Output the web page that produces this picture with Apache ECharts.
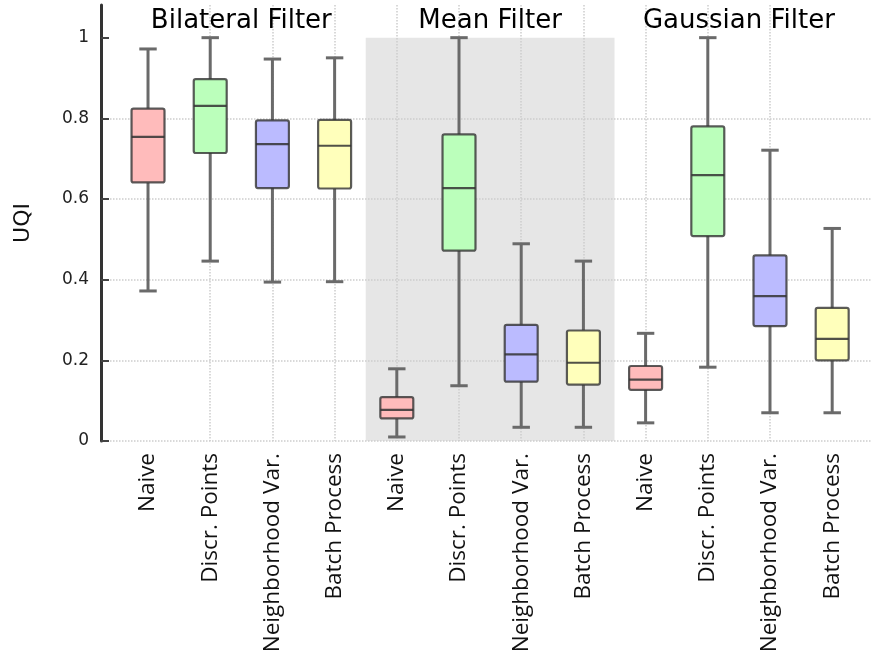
<!DOCTYPE html>
<html><head><meta charset="utf-8">
<script src="https://cdn.jsdelivr.net/npm/echarts@6/dist/echarts.min.js"></script>
<style>html,body{margin:0;padding:0;background:#fff}#c{width:874px;height:662px}</style>
</head><body><div id="c"></div>
<script>
// ---- data ----
const methods = ['Naive', 'Discr. Points', 'Neighborhood Var.', 'Batch Process'];
const groups = ['Bilateral Filter', 'Mean Filter', 'Gaussian Filter'];
const categories = [
  'Naive', 'Discr. Points', 'Neighborhood Var.', 'Batch Process',
  'Naive', 'Discr. Points', 'Neighborhood Var.', 'Batch Process',
  'Naive', 'Discr. Points', 'Neighborhood Var.', 'Batch Process'
];
const lowWhisker  = [0.372, 0.446, 0.394, 0.395, 0.010, 0.137, 0.034, 0.034, 0.045, 0.183, 0.070, 0.070];
const q1          = [0.641, 0.714, 0.627, 0.626, 0.056, 0.472, 0.147, 0.140, 0.127, 0.508, 0.285, 0.200];
const median      = [0.754, 0.831, 0.736, 0.732, 0.077, 0.627, 0.215, 0.194, 0.152, 0.659, 0.359, 0.253];
const q3          = [0.824, 0.897, 0.795, 0.796, 0.109, 0.760, 0.288, 0.274, 0.186, 0.780, 0.460, 0.330];
const highWhisker = [0.972, 1.000, 0.947, 0.950, 0.179, 1.000, 0.489, 0.446, 0.267, 1.000, 0.721, 0.527];
const yTicks = [0, 0.2, 0.4, 0.6, 0.8, 1];
const shadedGroup = 1;

const methodColors = ['#ffbbbb', '#bbffbb', '#bbbbff', '#ffffbb'];
const catIdx = categories.map((c, i) => i);
const boxData = categories.map((c, i) => [i, lowWhisker[i], q1[i], median[i], q3[i], highWhisker[i]]);
const perGroup = methods.length;
const bandData = [[shadedGroup * perGroup - 0.5, (shadedGroup + 1) * perGroup - 0.5]];

const chart = echarts.init(document.getElementById('c'), null, {renderer: 'canvas'});
const gridStyle = {color: '#cdcdcd', type: 'dotted', width: 1.5};
const option = {
  animation: false,
  backgroundColor: '#ffffff',
  grid: {left: 101, right: 2, top: 5, bottom: 221, containLabel: false, outerBoundsMode: 'none'},
  xAxis: {
    type: 'value', min: -0.756, max: 11.64,
    axisLine: {show: false, onZero: false},
    axisTick: {show: false, customValues: catIdx},
    axisLabel: {
      customValues: catIdx, rotate: 90, margin: 12,
      formatter: v => categories[Math.round(v)],
      fontFamily: 'Open Sans', fontSize: 22.5, color: '#111'
    },
    splitLine: {show: true, showMinLine: false, showMaxLine: false, lineStyle: gridStyle}
  },
  yAxis: {
    type: 'value', min: 0, max: 1.081,
    name: 'UQI', nameLocation: 'middle', nameGap: 67, nameRotate: 90,
    nameTextStyle: {fontFamily: 'DejaVu Sans', fontSize: 22, color: '#111'},
    axisLine: {show: true, onZero: false, lineStyle: {color: '#333', width: 3}},
    axisTick: {show: true, inside: true, length: 8, customValues: yTicks, lineStyle: {color: '#444', width: 2}},
    axisLabel: {customValues: yTicks, margin: 12, fontFamily: 'DejaVu Sans', fontSize: 17, color: '#222'},
    splitLine: {show: true, showMinLine: true, showMaxLine: false, lineStyle: gridStyle}
  },
  series: [
    {
      type: 'custom', z: -1, silent: true,
      data: bandData,
      renderItem: (params, api) => {
        const a = api.coord([api.value(0), 1]);
        const b = api.coord([api.value(1), 0]);
        return {type: 'rect', shape: {x: a[0], y: a[1], width: b[0] - a[0], height: b[1] - a[1]},
          style: {fill: '#e6e6e6'}};
      }
    },
    {
      type: 'custom', z: 3,
      data: boxData,
      renderItem: (params, api) => {
        const x = api.value(0);
        const lo = api.coord([x, api.value(1)]);
        const b1 = api.coord([x, api.value(2)]);
        const md = api.coord([x, api.value(3)]);
        const b3 = api.coord([x, api.value(4)]);
        const hi = api.coord([x, api.value(5)]);
        const unit = api.size([1, 0])[0];
        const bw = unit * 0.53, cw = unit * 0.28;
        const cx = md[0];
        const fill = methodColors[Math.round(x) % perGroup];
        const wStyle = {stroke: '#6a6a6a', lineWidth: 3};
        return {type: 'group', children: [
          {type: 'line', shape: {x1: cx, y1: hi[1], x2: cx, y2: b3[1]}, style: wStyle},
          {type: 'line', shape: {x1: cx, y1: b1[1], x2: cx, y2: lo[1]}, style: wStyle},
          {type: 'line', shape: {x1: cx - cw / 2, y1: hi[1], x2: cx + cw / 2, y2: hi[1]}, style: wStyle},
          {type: 'line', shape: {x1: cx - cw / 2, y1: lo[1], x2: cx + cw / 2, y2: lo[1]}, style: wStyle},
          {type: 'rect', shape: {x: cx - bw / 2, y: b3[1], width: bw, height: b1[1] - b3[1], r: 2},
            style: {fill: fill, stroke: 'rgba(50,50,50,0.8)', lineWidth: 2.2}},
          {type: 'line', shape: {x1: cx - bw / 2, y1: md[1], x2: cx + bw / 2, y2: md[1]},
            style: {stroke: 'rgba(50,50,50,0.85)', lineWidth: 2.2}}
        ]};
      }
    }
  ]
};
chart.setOption(option);
const titles = groups.map((g, k) => {
  const px = chart.convertToPixel({xAxisIndex: 0}, k * perGroup + (perGroup - 1) / 2);
  return {text: g, left: px, top: 8, padding: 0, textAlign: 'center',
    textStyle: {fontFamily: 'DejaVu Sans', fontSize: 26, fontWeight: 'normal', color: '#000'}};
});
chart.setOption({title: titles});
</script>
</body></html>
